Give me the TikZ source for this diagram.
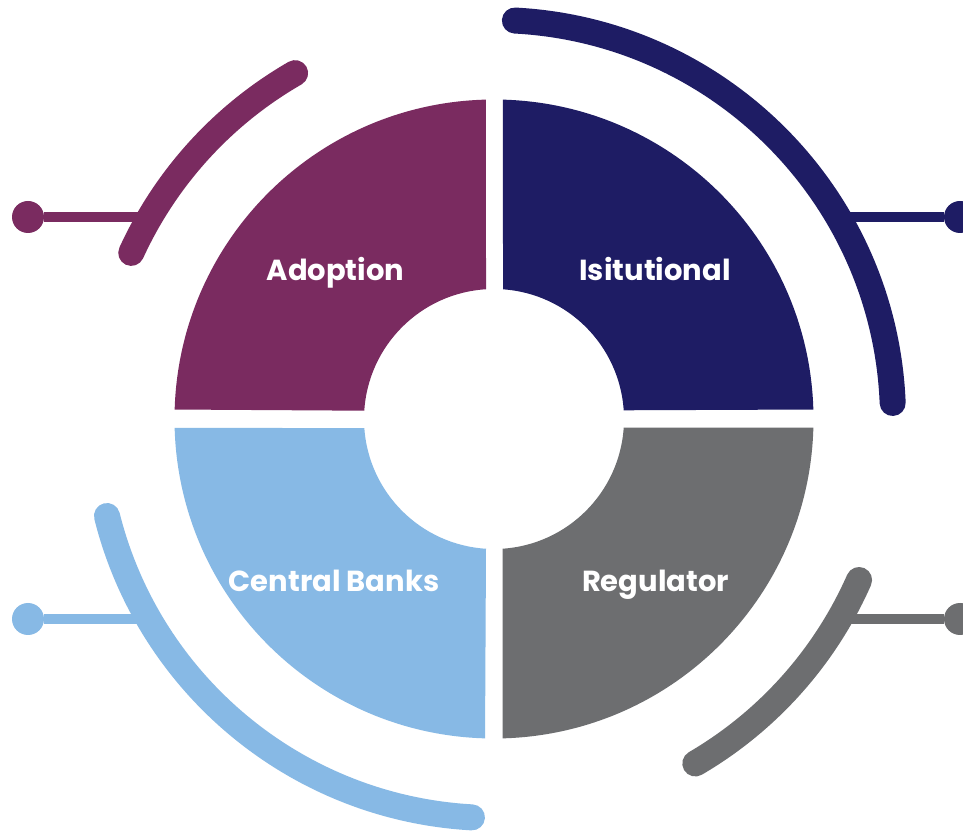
\documentclass[tikz,border=0pt]{standalone}
\usepackage{fontspec}
\setmainfont{Poppins}
\definecolor{cpurple}{HTML}{7A2B60}
\definecolor{cnavy}{HTML}{1E1C64}
\definecolor{cblue}{HTML}{87B9E5}
\definecolor{cgray}{HTML}{6D6E70}
\tikzset{
  lab/.style={text=white,font=\fontsize{29}{32}\selectfont\bfseries,inner sep=0pt,anchor=base},
  dotn/.style={circle,minimum size=32pt,inner sep=0pt},
  stem/.style={line width=10pt},
  band/.style={line width=26pt,line cap=round},
}
\newcommand{\sector}[5]{\fill[#1] (#2:319.5) arc[start angle=#2,end angle=#3,radius=319.5] -- (#4:130) arc[start angle=#4,end angle=#5,radius=130] -- cycle;}
\newcommand{\band}[3]{\draw[band,#1] (#2:399) arc[start angle=#2,end angle=#3,radius=399];}
\begin{document}
\begin{tikzpicture}[x=1pt,y=1pt]
\useasboundingbox (0,0) rectangle (963,830);
\clip (0,0) rectangle (963,830);
\fill[white] (0,0) rectangle (963,830);
\begin{scope}[shift={(494,411)}]
\sector{cpurple}{178.3}{91.44}{93.53}{176.34}
\sector{cnavy}{1.7}{88.39}{86.03}{3.84}
\sector{cblue}{181.6}{268.39}{266.47}{184.0}
\sector{cgray}{-1.56}{-88.44}{-86.16}{-3.84}
\band{cpurple}{119.9}{155.4}
\band{cnavy}{87}{2.3}
\band{cblue}{194.07}{266.83}
\band{cgray}{-23.8}{-59.7}
\end{scope}
\node[dotn,fill=cpurple] (dotA) at (28,613) {};
\coordinate (endA) at (140,613);
\draw[stem,cpurple] (dotA) -- (endA);
\node[dotn,fill=cnavy] (dotB) at (960,613) {};
\coordinate (endB) at (850,613);
\draw[stem,cnavy] (dotB) -- (endB);
\node[dotn,fill=cblue] (dotC) at (28,211) {};
\coordinate (endC) at (138,211);
\draw[stem,cblue] (dotC) -- (endC);
\node[dotn,fill=cgray] (dotD) at (960,211) {};
\coordinate (endD) at (850,211);
\draw[stem,cgray] (dotD) -- (endD);
\node[lab] (adoption) at (335.5,549) {Adoption};
\node[lab] (isit) at (655,549) {Isitutional};
\node[lab] (banks) at (334,238) {Central Banks};
\node[lab] (regulator) at (655.5,238) {Regulator};
\end{tikzpicture}
\end{document}
